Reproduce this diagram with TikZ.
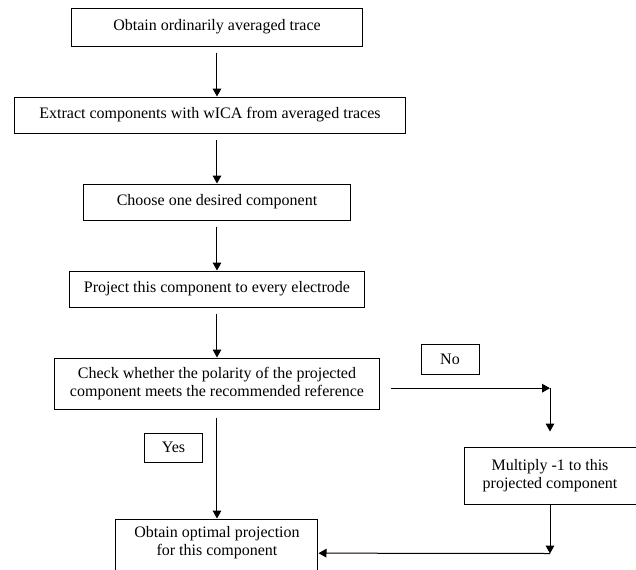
\documentclass[tikz,border=0pt]{standalone}
\usepackage{fontspec}
\setmainfont{Liberation Serif}
\usetikzlibrary{arrows.meta, positioning}

\begin{document}
\begin{tikzpicture}[
    stepbox/.style={rectangle, draw, line width=0.75pt, font=\fontsize{12}{13.5}\selectfont, align=center, inner sep=2pt, minimum height=27pt},
    answer/.style={rectangle, draw, line width=0.75pt, font=\fontsize{12}{13.5}\selectfont, minimum width=43.5pt, minimum height=22pt, inner sep=1pt},
    >={Triangle[length=6pt, width=6.5pt]},
    line width=0.75pt,
    node distance=37.5pt
]
\useasboundingbox (-162.75pt,20.25pt) rectangle (314.25pt,-406.5pt);

\node[stepbox, minimum width=217.5pt, minimum height=28.5pt] (obtain) {Obtain ordinarily averaged trace};
\node[stepbox, minimum width=293.25pt, below=of obtain, xshift=-5.25pt] (extract) {Extract components with wICA from averaged traces};
\node[stepbox, minimum width=200.25pt, below=of extract, xshift=5.25pt] (choose) {Choose one desired component};
\node[stepbox, minimum width=221.25pt, below=of choose] (project) {Project this component to every electrode};
\node[stepbox, minimum width=243pt, minimum height=38.25pt, below=of project] (check) {Check whether the polarity of the projected\\component meets the recommended reference};
\node[answer, right=30.75pt of check.north east, yshift=-1.5pt] (no) {No};
\node[answer, below left=17.25pt and 10.5pt of check.south] (yes) {Yes};
\node[stepbox, minimum width=129pt, minimum height=42.75pt, below right=27.75pt and 63pt of check] (multiply) {Multiply -1 to this\\projected component};
\node[stepbox, minimum width=151.5pt, minimum height=51pt, below=81.75pt of check] (final) {Obtain optimal projection\\for this component\\\strut};

\coordinate[below right=3.5pt and 8.25pt of check.east] (nofrom);
\coordinate (noto) at (nofrom -| multiply);
\coordinate[above=11.25pt of multiply] (mulin);
\coordinate[below=36.75pt of multiply] (back);

\draw[->, shorten <=4.5pt] (obtain) -- (obtain |- extract.north);
\draw[->, shorten <=4.5pt] (extract.south -| obtain) -- (choose);
\draw[->, shorten <=4.5pt] (choose) -- (project);
\draw[->, shorten <=4.5pt] (project) -- (check);
\draw[->, shorten <=6pt] (check) -- (final);
\draw[->] (nofrom) -- (noto);
\draw[->] (noto) -- (mulin);
\draw[->] (multiply) -- (back);
\draw[->] (back) -- (final);
\end{tikzpicture}
\end{document}
